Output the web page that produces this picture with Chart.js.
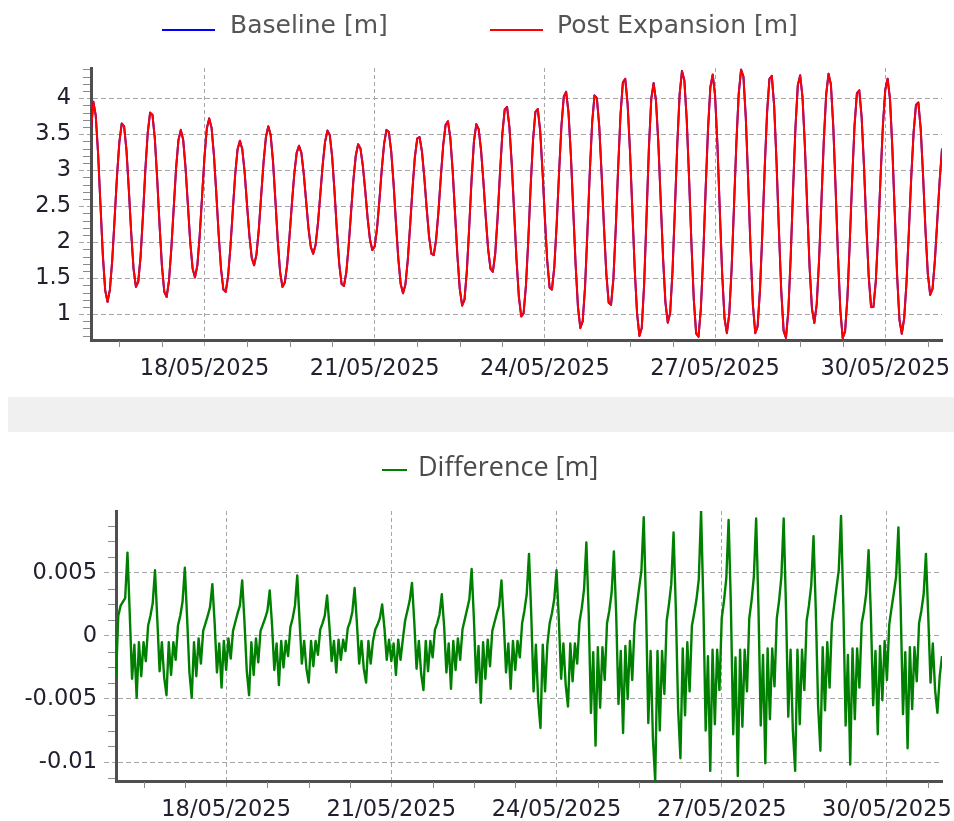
<!DOCTYPE html>
<html>
<head>
<meta charset="utf-8">
<title>Water level: Baseline vs Post Expansion</title>
<script src="https://cdn.jsdelivr.net/npm/chart.js@4.4.1/dist/chart.umd.min.js"></script>
<style>
  html, body { margin: 0; padding: 0; background: #fff; }
  #page { position: relative; width: 954px; height: 821px; overflow: hidden; background: #fff; }
  #page canvas { position: absolute; left: 0; }
  .key { position: absolute; white-space: nowrap; color: #555; }
  .key-top { font-family: 'DejaVu Sans', Verdana, sans-serif; font-size: 25px; line-height: 25px; top: 12px; }
  .key-bottom { font-family: 'Open Sans', 'Noto Sans', sans-serif; font-size: 27px; line-height: 27px; top: 452px; color: #4a4a4a; }
  .swatch { position: absolute; height: 2px; }
  #splitter { position: absolute; left: 8px; top: 397px; width: 946px; height: 35px; background: #f0f0f0; }
</style>
</head>
<body>
<div id="page">
  <canvas id="levels" width="954" height="395" style="top:0"></canvas>
  <div id="splitter"></div>
  <canvas id="diff" width="954" height="389" style="top:432px"></canvas>

  <div class="swatch" style="left:162px; top:29px; width:53px; background:#0000ff"></div>
  <div class="key key-top" style="left:230px">Baseline [m]</div>
  <div class="swatch" style="left:490px; top:29px; width:53px; background:#ff0000"></div>
  <div class="key key-top" style="left:557px">Post Expansion [m]</div>

  <div class="swatch" style="left:382px; top:469px; width:25px; background:#008000"></div>
  <div class="key key-bottom" style="left:418px">Difference [m]</div>
</div>

<script>
// Hourly water level of the baseline run, 16/05/2025 00:00 to 31/05/2025 00:00 (m)
const baseline = [
  3.55,3.95,3.76,3.23,2.52,1.82,1.33,1.17,1.34,1.76,2.33,2.92,3.39,3.65,3.61,3.28,2.73,2.13,1.63,1.38,1.45,1.81,2.38,3.01,
  3.52,3.80,3.77,3.44,2.88,2.24,1.67,1.31,1.24,1.47,1.92,2.48,3.03,3.42,3.56,3.42,3.03,2.51,1.99,1.63,1.51,1.68,2.10,2.64,
  3.18,3.58,3.72,3.59,3.21,2.68,2.11,1.63,1.34,1.31,1.53,1.94,2.45,2.94,3.29,3.41,3.29,2.97,2.52,2.09,1.78,1.68,1.83,2.18,
  2.65,3.11,3.46,3.61,3.49,3.12,2.58,2.02,1.58,1.38,1.44,1.69,2.09,2.54,2.95,3.24,3.34,3.24,2.95,2.57,2.19,1.93,1.84,1.96,
  2.26,2.66,3.07,3.39,3.55,3.49,3.19,2.71,2.17,1.70,1.42,1.39,1.58,1.95,2.41,2.86,3.20,3.36,3.30,3.06,2.72,2.34,2.04,1.89,
  1.94,2.19,2.58,3.01,3.37,3.56,3.53,3.26,2.81,2.27,1.77,1.42,1.29,1.41,1.75,2.23,2.74,3.18,3.44,3.46,3.26,2.90,2.47,2.08,
  1.84,1.82,2.04,2.43,2.91,3.35,3.63,3.68,3.45,2.99,2.40,1.81,1.35,1.12,1.20,1.60,2.21,2.87,3.40,3.64,3.57,3.28,2.84,2.34,
  1.90,1.63,1.59,1.84,2.34,2.95,3.50,3.84,3.88,3.60,3.08,2.42,1.76,1.24,0.97,1.01,1.40,2.04,2.78,3.42,3.81,3.85,3.55,2.99,
  2.33,1.74,1.37,1.34,1.66,2.25,2.96,3.61,4.02,4.09,3.80,3.21,2.45,1.69,1.10,0.81,0.90,1.38,2.14,2.97,3.66,4.04,4.00,3.61,
  2.95,2.21,1.56,1.16,1.13,1.50,2.20,3.03,3.77,4.22,4.27,3.92,3.27,2.45,1.63,1.01,0.70,0.81,1.42,2.35,3.30,3.99,4.21,3.97,
  3.38,2.58,1.78,1.16,0.88,1.02,1.60,2.45,3.35,4.05,4.38,4.25,3.71,2.89,1.98,1.20,0.73,0.69,1.08,1.82,2.72,3.56,4.15,4.33,
  4.04,3.35,2.44,1.56,0.94,0.74,1.00,1.63,2.49,3.37,4.06,4.40,4.30,3.73,2.86,1.91,1.13,0.74,0.83,1.34,2.13,3.03,3.80,4.27,
  4.31,3.89,3.11,2.17,1.32,0.77,0.67,1.05,1.80,2.73,3.59,4.18,4.32,4.01,3.33,2.47,1.64,1.07,0.88,1.14,1.75,2.57,3.41,4.05,
  4.34,4.19,3.61,2.74,1.80,1.05,0.67,0.76,1.24,2.01,2.87,3.62,4.07,4.11,3.74,3.05,2.23,1.52,1.10,1.10,1.46,2.12,2.90,3.62,
  4.12,4.27,3.99,3.30,2.41,1.54,0.92,0.73,0.94,1.45,2.16,2.91,3.53,3.91,3.94,3.57,2.92,2.17,1.56,1.27,1.35,1.75,2.30,2.85,
  3.30
];

// Hourly difference Post Expansion minus Baseline (mm)
const differenceMm = [
  -3.3,1.6,2.4,2.7,3.0,6.6,1.7,-3.4,-0.7,-4.9,-0.5,-3.2,-0.5,-2.0,0.8,1.6,2.6,5.2,1.3,-2.8,-0.5,-3.3,-4.7,-0.5,
  -3.1,-0.5,-1.9,0.8,1.6,2.7,5.4,1.4,-2.9,-4.9,-0.5,-3.2,-0.2,-2.2,0.4,1.0,1.6,2.3,4.1,1.0,-2.9,-0.6,-4.1,-0.4,
  -2.7,-0.2,-1.8,0.4,1.1,1.8,2.4,4.4,1.1,-2.8,-4.7,-0.5,-3.1,-0.2,-2.1,0.4,0.9,1.4,2.0,3.6,0.9,-2.7,-0.6,-3.9,
  -0.4,-2.5,-0.4,-1.6,0.7,1.4,2.4,4.8,1.2,-2.2,-0.4,-2.6,-3.7,-0.4,-2.4,-0.4,-1.5,0.5,1.0,1.6,3.2,0.8,-2.0,-0.4,
  -2.9,-0.3,-1.9,-0.3,-1.2,0.6,1.1,1.9,3.8,1.0,-2.2,-0.4,-2.6,-3.7,-0.4,-2.2,-0.4,0.5,0.9,1.4,2.5,0.6,-1.9,-0.3,
  -2.0,-0.6,-3.1,-0.3,-1.9,-0.3,1.2,2.0,2.8,4.2,1.1,-2.6,-0.4,-3.0,-4.3,-0.4,-2.8,-0.4,-1.7,0.5,1.0,1.7,3.3,0.8,
  -2.9,-0.6,-4.2,-0.4,-2.7,-0.2,-1.9,0.5,1.3,2.1,2.9,5.3,1.3,-3.7,-0.8,-5.3,-0.5,-3.4,-0.3,-2.4,0.4,1.1,1.8,2.4,
  4.4,1.1,-2.9,-0.6,-4.2,-0.4,-2.7,-0.4,-1.7,1.0,2.0,3.3,6.5,1.6,-4.4,-0.7,-5.1,-7.3,-0.7,-4.4,-0.7,1.0,1.8,2.9,
  5.2,1.3,-3.4,-0.6,-3.9,-5.6,-0.6,-3.6,-0.6,-2.2,1.1,2.2,3.7,7.4,1.9,-6.1,-1.3,-8.7,-0.9,-5.7,-0.9,-3.5,1.0,2.0,
  3.4,6.7,1.7,-5.4,-1.2,-7.7,-0.8,-5.0,-0.4,-3.5,0.9,2.4,3.8,5.2,9.4,2.4,-6.9,-1.2,-8.1,-11.5,-1.2,-7.5,-1.2,-4.6,
  1.2,2.5,4.1,8.2,2.1,-5.8,-9.7,-1.0,-6.3,-0.5,-4.4,0.8,1.8,2.9,4.5,9.9,2.5,-7.5,-1.6,-10.7,-1.1,-7.0,-1.1,-4.3,
  1.4,2.8,4.6,9.2,2.3,-7.8,-1.7,-11.1,-1.1,-7.2,-1.1,-4.4,1.4,2.8,4.7,9.3,2.3,-7.1,-1.5,-10.1,-1.0,-6.6,-1.0,-4.0,
  1.4,2.8,4.7,9.3,2.3,-6.4,-1.1,-7.5,-10.7,-1.1,-7.0,-1.1,-4.3,1.2,2.4,4.0,7.9,2.0,-5.5,-9.1,-0.9,-5.9,-0.5,-4.1,
  1.0,2.4,3.8,5.2,9.5,2.4,-7.1,-1.5,-10.2,-1.0,-6.6,-1.0,-4.1,1.0,2.0,3.4,6.8,1.7,-5.5,-1.2,-7.8,-0.8,-5.1,-0.4,
  -3.5,0.9,2.2,3.4,4.7,8.6,2.2,-6.2,-1.3,-8.9,-0.9,-5.8,-0.9,-3.6,1.0,2.0,3.3,6.5,1.6,-3.7,-0.6,-4.3,-6.1,-3.2,
  -1.6
];

// Axis ticks
const levelTicks = [1, 1.5, 2, 2.5, 3, 3.5, 4];
const differenceTicks = [-0.01, -0.005, 0, 0.005];
const dateTickHours = [48, 120, 192, 264, 336];
const dateTickLabels = ['18/05/2025', '21/05/2025', '24/05/2025', '27/05/2025', '30/05/2025'];

// Derived series
const hours = baseline.map((_, i) => i);
const difference = differenceMm.map(v => v / 1000);
const postExpansion = baseline.map((v, i) => +(v + difference[i]).toFixed(4));

// Minor tick positions
const levelMinor = [];
for (let k = 7; k <= 44; k++) if (k % 5) levelMinor.push(k / 10);
const diffMinor = [];
for (let k = -9; k <= 7; k++) if (k % 4) diffMinor.push(k * 0.00125);
const hourMinor = [];
for (let h = 12; h < 360; h += 18) if ((h - 48) % 72) hourMinor.push(h);

const TICK_FONT = { family: "'DejaVu Sans', Verdana, sans-serif", size: 22.5 };
const TICK_COLOR = '#20202e';
const GRID = '#a6a6a6';
const AXIS = '#4f4f4f';

// Short unlabelled ticks between the labelled ones
const minorTicks = {
  id: 'minorTicks',
  afterDraw(chart, args, opts) {
    const { ctx, chartArea } = chart;
    const xs = chart.scales.x, ys = chart.scales.y;
    ctx.save();
    ctx.strokeStyle = '#8a8a8a';
    ctx.lineWidth = 1;
    ctx.beginPath();
    for (const v of opts.y) {
      const py = Math.round(ys.getPixelForValue(v)) + 0.5;
      ctx.moveTo(chartArea.left - 8, py);
      ctx.lineTo(chartArea.left - 1, py);
    }
    for (const v of opts.x) {
      const px = Math.round(xs.getPixelForValue(v)) + 0.5;
      ctx.moveTo(px, chartArea.bottom + 1);
      ctx.lineTo(px, chartArea.bottom + 7);
    }
    ctx.stroke();
    ctx.restore();
  }
};

function timeAxis(height) {
  return {
    type: 'linear', min: 0, max: 360,
    afterBuildTicks: s => { s.ticks = dateTickHours.map(v => ({ value: v })); },
    afterFit: s => { s.height = height; s.paddingLeft = 0; s.paddingRight = 0; },
    ticks: {
      autoSkip: false, maxRotation: 0, padding: 9,
      color: TICK_COLOR, font: TICK_FONT,
      callback: v => dateTickLabels[dateTickHours.indexOf(v)]
    },
    grid: { color: GRID, lineWidth: 1, tickLength: 7, tickColor: GRID, tickBorderDash: [4, 3] },
    border: { display: true, color: AXIS, width: 3, dash: [4, 3] }
  };
}

function valueAxis(width, min, max, values, pad) {
  return {
    type: 'linear', min, max,
    afterBuildTicks: s => { s.ticks = values.map(v => ({ value: v })); },
    afterFit: s => { s.width = width; s.paddingTop = 0; s.paddingBottom = 0; },
    ticks: { padding: pad, color: TICK_COLOR, font: TICK_FONT, callback: v => String(v) },
    grid: { color: GRID, lineWidth: 1, tickLength: 12, tickColor: GRID, tickBorderDash: [5, 3] },
    border: { display: true, color: AXIS, width: 3, dash: [5, 3] }
  };
}

const common = {
  responsive: false,
  animation: false,
  devicePixelRatio: 1,
  events: [],
  plugins: { legend: { display: false }, tooltip: { enabled: false } }
};

new Chart(document.getElementById('levels'), {
  type: 'line',
  data: {
    datasets: [
      {
        label: 'Baseline [m]',
        data: hours.map((h, i) => ({ x: h, y: baseline[i] })),
        borderColor: '#0000ff', backgroundColor: '#0000ff',
        borderWidth: 2, pointRadius: 0, tension: 0, borderJoinStyle: 'round', order: 1
      },
      {
        label: 'Post Expansion [m]',
        data: hours.map((h, i) => ({ x: h, y: postExpansion[i] })),
        borderColor: '#ff0000', backgroundColor: '#ff0000',
        borderWidth: 2, pointRadius: 0, tension: 0, borderJoinStyle: 'round', order: 0
      }
    ]
  },
  options: {
    ...common,
    layout: { padding: { top: 68, right: 12, left: 0, bottom: 0 } },
    plugins: { ...common.plugins, minorTicks: { x: hourMinor, y: levelMinor } },
    scales: {
      x: timeAxis(55),
      y: valueAxis(91, 0.64, 4.42, levelTicks, 8)
    }
  },
  plugins: [minorTicks]
});

new Chart(document.getElementById('diff'), {
  type: 'line',
  data: {
    datasets: [
      {
        label: 'Difference [m]',
        data: hours.map((h, i) => ({ x: h, y: difference[i] })),
        borderColor: '#008000', backgroundColor: '#008000',
        borderWidth: 2.4, pointRadius: 0, tension: 0, borderJoinStyle: 'round'
      }
    ]
  },
  options: {
    ...common,
    layout: { padding: { top: 79, right: 12, left: 0, bottom: 0 } },
    plugins: { ...common.plugins, minorTicks: { x: hourMinor, y: diffMinor } },
    scales: {
      x: timeAxis(40),
      y: valueAxis(116, -0.0115, 0.0099, differenceTicks, 7)
    }
  },
  plugins: [minorTicks]
});
</script>
</body>
</html>
